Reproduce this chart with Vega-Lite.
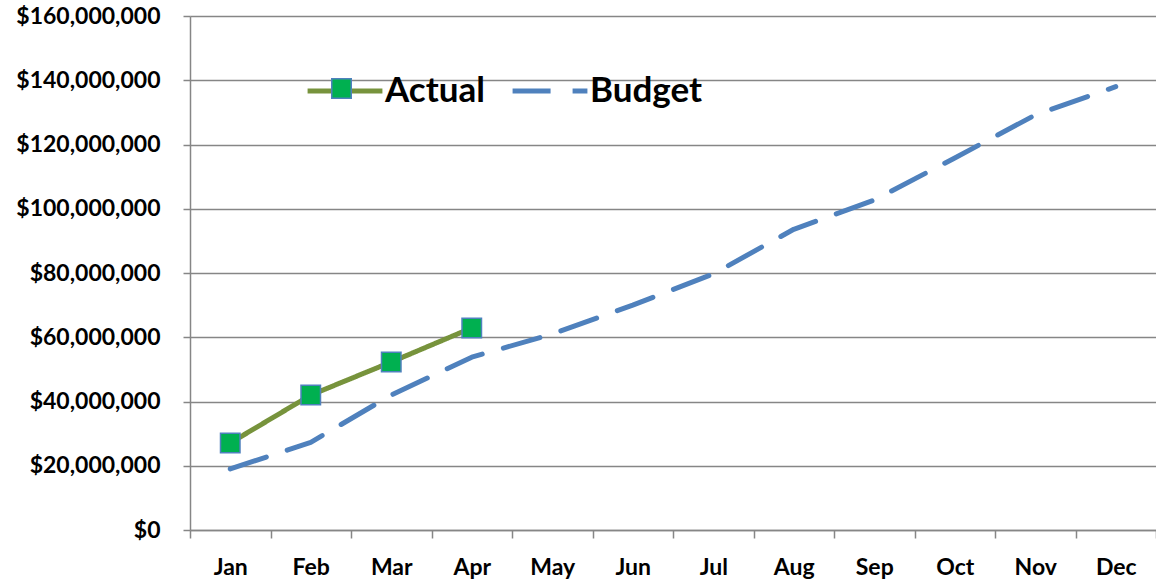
{
  "$schema": "https://vega.github.io/schema/vega-lite/v6.json",
  "width": 966,
  "height": 514,
  "autosize": {"type": "none"},
  "padding": {"left": 190, "top": 16, "right": 0, "bottom": 55},
  "background": "white",
  "config": {
    "view": {"stroke": null},
    "font": "Lato"
  },
  "data": {
    "values": [
      {"month": "Jan", "series": "Actual", "value": 27100000},
      {"month": "Feb", "series": "Actual", "value": 42000000},
      {"month": "Mar", "series": "Actual", "value": 52300000},
      {"month": "Apr", "series": "Actual", "value": 62900000},
      {"month": "Jan", "series": "Budget", "value": 19000000},
      {"month": "Feb", "series": "Budget", "value": 27300000},
      {"month": "Mar", "series": "Budget", "value": 42000000},
      {"month": "Apr", "series": "Budget", "value": 53800000},
      {"month": "May", "series": "Budget", "value": 61000000},
      {"month": "Jun", "series": "Budget", "value": 70000000},
      {"month": "Jul", "series": "Budget", "value": 79700000},
      {"month": "Aug", "series": "Budget", "value": 93600000},
      {"month": "Sep", "series": "Budget", "value": 102700000},
      {"month": "Oct", "series": "Budget", "value": 115800000},
      {"month": "Nov", "series": "Budget", "value": 129200000},
      {"month": "Dec", "series": "Budget", "value": 138000000}
    ]
  },
  "encoding": {
    "x": {
      "field": "month",
      "type": "ordinal",
      "bandPosition": 0.5,
      "sort": ["Jan","Feb","Mar","Apr","May","Jun","Jul","Aug","Sep","Oct","Nov","Dec"],
      "scale": {"type": "band", "paddingInner": 0, "paddingOuter": 0},
      "axis": {
        "title": null,
        "labelAngle": 0,
        "labelFont": "Lato",
        "labelFontWeight": "bold",
        "labelFontSize": 23,
        "labelColor": "black",
        "labelPadding": 18,
        "tickBand": "extent",
        "tickSize": 8,
        "tickColor": "#868686",
        "tickWidth": 1.5,
        "domainColor": "#868686",
        "domainWidth": 1.5,
        "grid": false
      }
    },
    "y": {
      "field": "value",
      "type": "quantitative",
      "scale": {"domain": [0, 160000000], "nice": false},
      "axis": {
        "title": null,
        "format": "$,.0f",
        "values": [0, 20000000, 40000000, 60000000, 80000000, 100000000, 120000000, 140000000, 160000000],
        "labelFont": "Lato",
        "labelFontWeight": "bold",
        "labelFontSize": 23,
        "labelColor": "black",
        "labelPadding": 23,
        "tickSize": 7,
        "tickColor": "#868686",
        "tickWidth": 1.5,
        "domainColor": "#868686",
        "domainWidth": 1.5,
        "gridColor": "#868686",
        "gridWidth": 1.5
      }
    }
  },
  "layer": [
    {
      "mark": {"type": "line", "strokeWidth": 5, "strokeCap": "round", "strokeJoin": "round"},
      "encoding": {
        "color": {
          "field": "series",
          "type": "nominal",
          "scale": {"domain": ["Actual", "Budget"], "range": ["#77933C", "#4F81BD"]},
          "legend": {
            "title": null,
            "orient": "none",
            "legendX": 115,
            "legendY": 35,
            "direction": "horizontal",
            "symbolType": "stroke",
            "symbolSize": 5600,
            "symbolStrokeWidth": 5,
            "labelFont": "Lato",
            "labelFontWeight": "bold",
            "labelFontSize": 35,
            "labelColor": "black",
            "labelOffset": 0,
            "columnPadding": 17
          }
        },
        "strokeDash": {
          "field": "series",
          "type": "nominal",
          "scale": {"domain": ["Actual", "Budget"], "range": [[1, 0], [38, 22]]},
          "legend": null
        }
      }
    },
    {
      "transform": [{"filter": "datum.series === 'Actual'"}],
      "mark": {"type": "point", "shape": "square", "filled": true, "stroke": "#4F81BD", "strokeWidth": 1.5, "size": 380, "opacity": 1},
      "encoding": {
        "fill": {
          "field": "series",
          "type": "nominal",
          "scale": {"domain": ["Actual"], "range": ["#00B050"]},
          "legend": {
            "title": null,
            "orient": "none",
            "legendX": 134,
            "legendY": 55,
            "symbolType": "square",
            "symbolSize": 380,
            "symbolStrokeColor": "#4F81BD",
            "symbolStrokeWidth": 1.5,
            "symbolOpacity": 1,
            "labelExpr": "''",
            "labelFontSize": 35
          }
        }
      }
    }
  ]
}
